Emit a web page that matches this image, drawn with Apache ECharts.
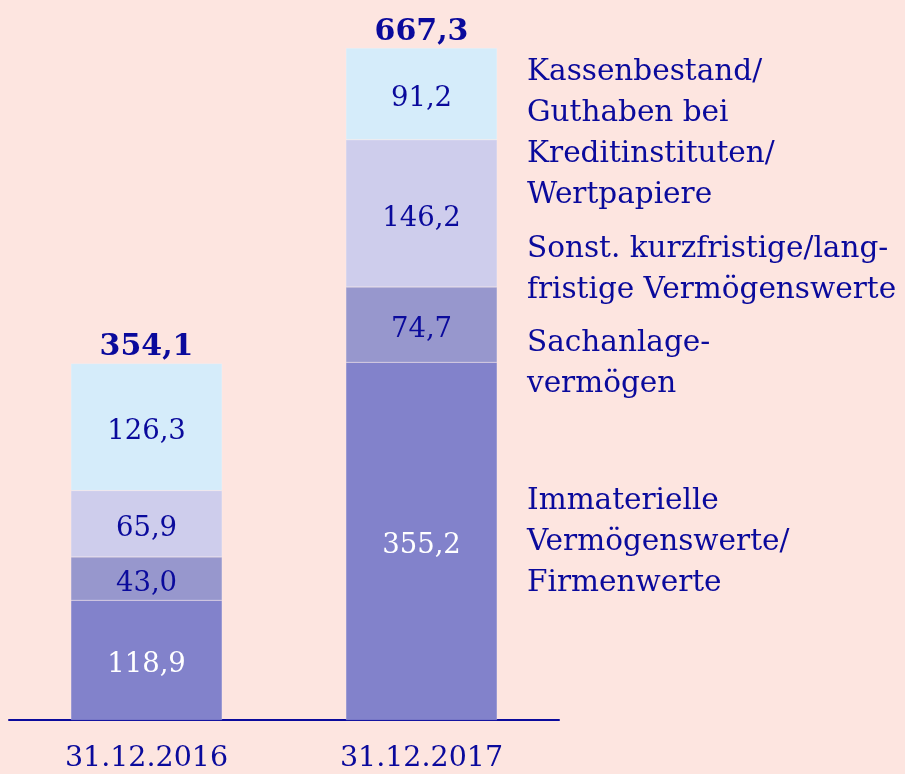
<!DOCTYPE html>
<html>
<head>
<meta charset="utf-8">
<script src="https://cdn.jsdelivr.net/npm/echarts@6/dist/echarts.min.js"></script>
<style>
  html, body { margin: 0; padding: 0; background: #fde5e0; }
  #chart { width: 905px; height: 774px; }
</style>
</head>
<body>
<div id="chart"></div>
<script>
// Balance sheet assets (Mio. EUR), stacked bottom to top
const categories = ['31.12.2016', '31.12.2017'];
const immaterielle = [118.9, 355.2];
const sachanlage = [43.0, 74.7];
const sonstige = [65.9, 146.2];
const kasse = [126.3, 91.2];
const totals = [354.1, 667.3];

const legendLines = [
  { lines: ['Kassenbestand/', 'Guthaben bei', 'Kreditinstituten/', 'Wertpapiere'], y: 52 },
  { lines: ['Sonst. kurzfristige/lang-', 'fristige Vermögenswerte'], y: 229 },
  { lines: ['Sachanlage-', 'vermögen'], y: 323 },
  { lines: ['Immaterielle', 'Vermögenswerte/', 'Firmenwerte'], y: 481 }
];

const FONT = 'DejaVu Serif';
const DARK = '#0a0a9c';
const fmt = v => v.toFixed(1).replace('.', ',');

function seg(name, data, color, labelColor) {
  return {
    name, type: 'bar', stack: 'a', data,
    barWidth: '55%',
    itemStyle: { color, borderColor: 'rgba(255,255,255,0.35)', borderWidth: 0.5 },
    label: {
      show: true, position: 'inside', color: labelColor,
      fontFamily: FONT, fontSize: 27.5, offset: [0, 5],
      formatter: p => fmt(p.value)
    }
  };
}

const chart = echarts.init(document.getElementById('chart'), null, { renderer: 'canvas' });
chart.setOption({
  backgroundColor: '#fde5e0',
  animation: false,
  grid: { left: 9, right: 346, top: 0, bottom: 54 },
  xAxis: {
    type: 'category', data: categories,
    axisLine: { lineStyle: { color: DARK, width: 2 } },
    axisTick: { show: false },
    axisLabel: { color: DARK, fontFamily: FONT, fontSize: 28.5, margin: 24 }
  },
  yAxis: { type: 'value', min: 0, max: 715, show: false, splitLine: { show: false } },
  series: [
    seg('Immaterielle Vermögenswerte/Firmenwerte', immaterielle, '#8282cb', '#ffffff'),
    seg('Sachanlagevermögen', sachanlage, '#9797cd', DARK),
    seg('Sonst. kurzfristige/langfristige Vermögenswerte', sonstige, '#cecdec', DARK),
    seg('Kassenbestand/Guthaben bei Kreditinstituten/Wertpapiere', kasse, '#d5ecfa', DARK),
    {
      name: 'Summe', type: 'bar', stack: 'a', barWidth: '55%',
      data: totals.map(() => 0),
      itemStyle: { color: 'transparent' },
      label: {
        show: true, position: 'top', distance: 1, color: DARK,
        fontFamily: FONT, fontSize: 30, fontWeight: 'bold',
        formatter: p => fmt(totals[p.dataIndex])
      }
    }
  ],
  graphic: legendLines.map(g => ({
    type: 'text', left: 527, top: g.y,
    style: {
      text: g.lines.join('\n'), fill: DARK,
      font: '29.5px "' + FONT + '"', lineHeight: 41
    }
  }))
});
</script>
</body>
</html>
